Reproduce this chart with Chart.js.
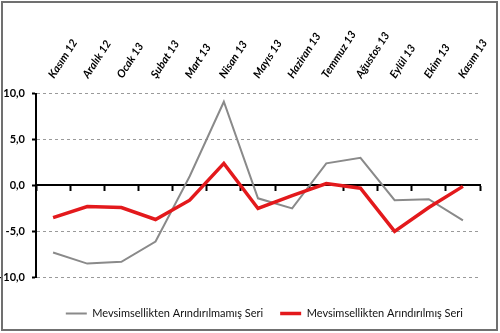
<!DOCTYPE html>
<html>
<head>
<meta charset="utf-8">
<script src="https://cdn.jsdelivr.net/npm/chart.js@4"></script>
<style>
  body { margin: 0; background: #fff; }
  #wrap { position: relative; width: 500px; height: 333px; }
  #frame { position: absolute; left: 1px; top: 1px; width: 497px; height: 330px;
           border: 2px solid #707070; box-sizing: border-box; pointer-events: none; }
</style>
</head>
<body>
<div id="wrap">
  <canvas id="chart" width="500" height="333"></canvas>
  <div id="frame"></div>
</div>
<script>
// Months (Nov 2012 - Nov 2013)
const months = ['Kasım 12', 'Aralık 12', 'Ocak 13', 'Şubat 13', 'Mart 13', 'Nisan 13', 'Mayıs 13',
                'Haziran 13', 'Temmuz 13', 'Ağustos 13', 'Eylül 13', 'Ekim 13', 'Kasım 13'];

// Unadjusted series
const rawSeries = [-7.3, -8.5, -8.3, -6.1, 1.0, 9.1, -1.4, -2.5, 2.4, 3.0, -1.6, -1.5, -3.8];

// Seasonally adjusted series
const adjSeries = [-3.5, -2.3, -2.4, -3.7, -1.6, 2.4, -2.5, -1.1, 0.2, -0.3, -5.0, -2.4, -0.1];

// Y axis ticks
const yTicks = [-10, -5, 0, 5, 10];

const rawLabel = 'Mevsimsellikten Arındırılmamış Seri';
const adjLabel = 'Mevsimsellikten Arındırılmış Seri';

// Slanted month names above the plot, placed at each category centre
const monthLabels = {
    id: 'monthLabels',
    afterDraw(chart) {
        const xs = chart.scales.x;
        const c = chart.ctx;
        c.save();
        c.fillStyle = '#000';
        c.font = 'italic bold 11px Lato';
        c.textAlign = 'left';
        c.textBaseline = 'alphabetic';
        months.forEach((m, i) => {
            const px = xs.getPixelForValue(i);
            c.save();
            c.translate(px + 1, 79);
            c.rotate(-57 * Math.PI / 180);
            c.fillText(m, 0, 0);
            c.restore();
        });
        c.restore();
    }
};

const ctx = document.getElementById('chart').getContext('2d');
new Chart(ctx, {
    type: 'line',
    data: {
        labels: months,
        datasets: [{
            label: rawLabel,
            data: rawSeries,
            borderColor: '#8a8a8a',
            backgroundColor: '#8a8a8a',
            borderWidth: 2,
            pointRadius: 0,
            tension: 0,
            order: 1
        }, {
            label: adjLabel,
            data: adjSeries,
            borderColor: '#e3191c',
            backgroundColor: '#e3191c',
            borderWidth: 3.5,
            pointRadius: 0,
            tension: 0,
            order: 0
        }]
    },
    plugins: [monthLabels],
    options: {
        responsive: false,
        animation: false,
        layout: { padding: { left: 0, right: 20, top: 0, bottom: 4 } },
        plugins: {
            tooltip: { enabled: false },
            legend: {
                position: 'bottom',
                align: 'end',
                title: { display: true, text: ' ', font: { size: 8 }, padding: 2 },
                labels: {
                    usePointStyle: true,
                    pointStyle: 'line',
                    pointStyleWidth: 21,
                    padding: 17,
                    color: '#111',
                    font: { family: 'Lato', size: 11 },
                    sort: (a, b) => a.datasetIndex - b.datasetIndex
                }
            }
        },
        scales: {
            // room for the month names along the top
            x: {
                type: 'category',
                position: 'top',
                offset: true,
                grid: { display: false, drawTicks: false },
                border: { display: false },
                ticks: { display: false },
                afterFit: scale => { scale.height = 93.5; }
            },
            // zero line with tick marks between months
            x2: {
                type: 'category',
                labels: months,
                position: { y: 0 },
                offset: true,
                grid: { offset: true, drawOnChartArea: false, tickLength: 5, tickWidth: 2, tickColor: '#000' },
                border: { display: true, color: '#000', width: 2 },
                ticks: { display: false },
                afterFit: scale => { scale.height = 0; }
            },
            y: {
                min: -10,
                max: 10,
                afterBuildTicks: scale => { scale.ticks = yTicks.map(v => ({ value: v })); },
                grid: {
                    color: c => c.tick && c.tick.value === 0 ? 'rgba(0,0,0,0)' : '#9a9a9a',
                    lineWidth: 1,
                    tickColor: '#000',
                    tickLength: 4,
                    tickWidth: 2
                },
                border: { display: true, color: '#000', width: 2, dash: [3, 3] },
                ticks: {
                    padding: 7,
                    color: '#000',
                    font: { family: 'Lato', size: 11, weight: 'bold' },
                    callback: v => v.toFixed(1).replace('.', ',')
                },
                afterFit: scale => { scale.width = 36; }
            }
        }
    }
});
</script>
</body>
</html>
